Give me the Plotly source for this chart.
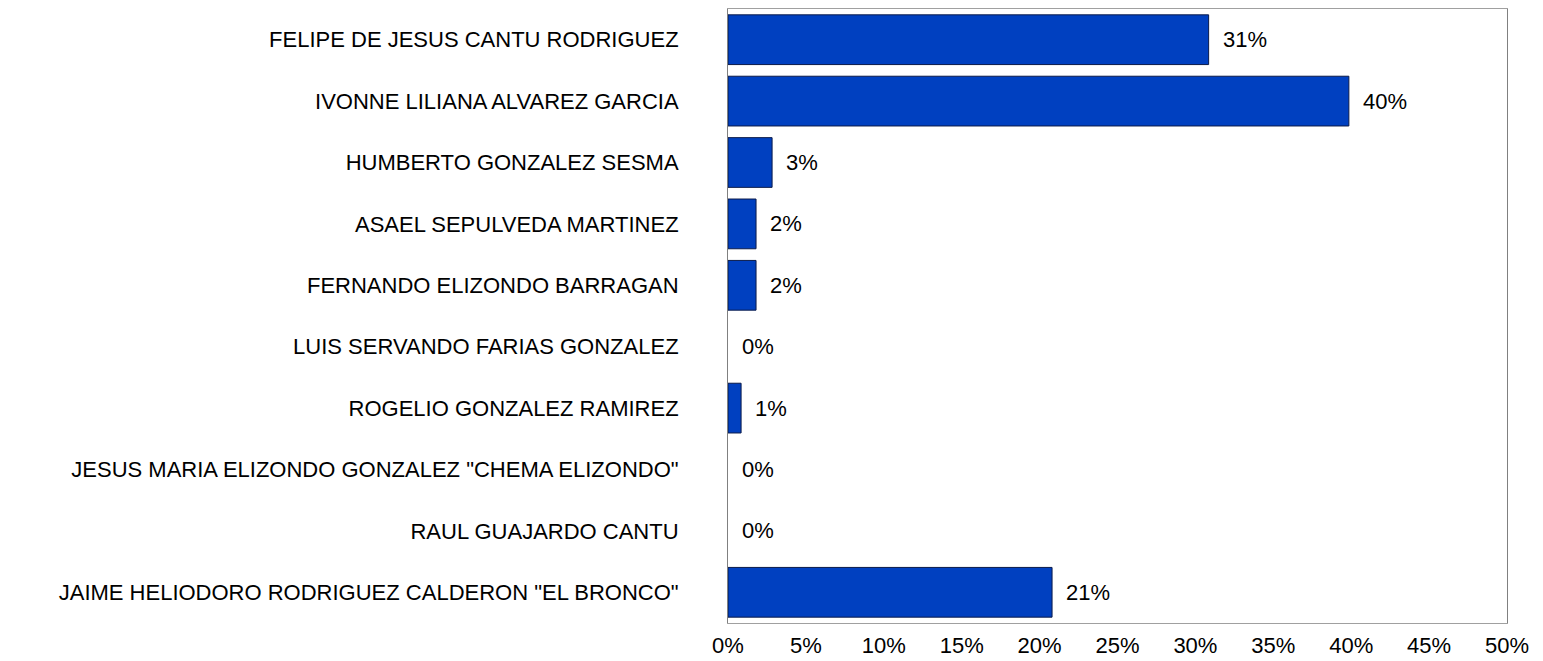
import plotly.graph_objects as go

candidates = [
    "FELIPE DE JESUS CANTU RODRIGUEZ",
    "IVONNE LILIANA ALVAREZ GARCIA",
    "HUMBERTO GONZALEZ SESMA",
    "ASAEL SEPULVEDA MARTINEZ",
    "FERNANDO ELIZONDO BARRAGAN",
    "LUIS SERVANDO FARIAS GONZALEZ",
    "ROGELIO GONZALEZ RAMIREZ",
    "JESUS MARIA ELIZONDO GONZALEZ \"CHEMA ELIZONDO\"",
    "RAUL GUAJARDO CANTU",
    "JAIME HELIODORO RODRIGUEZ CALDERON \"EL BRONCO\"",
]
percent = [30.85, 39.85, 2.83, 1.8, 1.8, 0.0, 0.84, 0.0, 0.0, 20.8]
x_ticks = [0, 5, 10, 15, 20, 25, 30, 35, 40, 45, 50]
x_tick_labels = [f"{t}%" for t in x_ticks]

FONT = "Liberation Sans, Arial, sans-serif"

fig = go.Figure()
fig.add_trace(go.Bar(
    x=percent,
    y=candidates,
    orientation="h",
    marker=dict(
        color="#0040C0",
        line=dict(color="#0A1A4A", width=[1 if v > 0 else 0 for v in percent]),
    ),
    hoverinfo="x+y",
))

for name, v in zip(candidates, percent):
    fig.add_annotation(
        x=v, y=name, xref="x", yref="y",
        text=f"{round(v)}%", showarrow=False,
        xanchor="left", yanchor="middle", xshift=12,
        font=dict(family=FONT, size=22, color="#000000"),
    )

fig.update_layout(
    width=1535, height=653,
    margin=dict(l=720, r=36, t=1, b=38, autoexpand=False),
    paper_bgcolor="white",
    plot_bgcolor="white",
    bargap=0.19,
    showlegend=False,
    font=dict(family=FONT, size=22, color="#000000"),
)
fig.update_xaxes(
    range=[0, 50],
    tickvals=x_ticks,
    ticktext=x_tick_labels,
    showgrid=False,
    zeroline=False,
    showline=True,
    linecolor="#A0A0A0",
    linewidth=1,
    mirror=True,
    ticks="",
    automargin=False,
    ticklabelstandoff=3,
    tickfont=dict(family=FONT, size=22, color="#000000"),
)
fig.update_yaxes(
    categoryorder="array",
    categoryarray=candidates,
    autorange="reversed",
    showgrid=False,
    zeroline=False,
    showline=True,
    linecolor="#808080",
    linewidth=1,
    mirror=True,
    ticks="",
    automargin=False,
    ticklabelstandoff=44,
    tickfont=dict(family=FONT, size=22, color="#000000"),
)

fig.write_html("out.html")
